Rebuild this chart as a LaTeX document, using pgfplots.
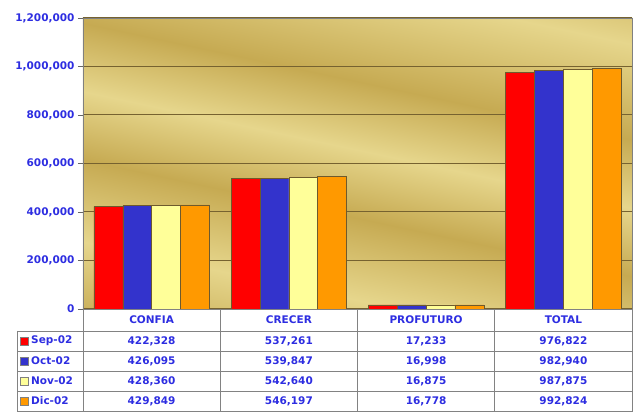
\documentclass[border=0pt]{standalone}
\usepackage{fontspec}
\setmainfont{DejaVu Sans}
\usepackage{pgfplots}
\pgfplotsset{compat=1.18}
\definecolor{txtblue}{RGB}{45,45,225}
\definecolor{sred}{RGB}{255,0,0}
\definecolor{sblue}{RGB}{51,51,204}
\definecolor{syel}{RGB}{255,255,153}
\definecolor{sorg}{RGB}{255,153,0}
\definecolor{gridc}{RGB}{118,98,48}
\definecolor{barline}{RGB}{110,90,45}
\definecolor{goldA}{RGB}{230,214,140}
\definecolor{goldB}{RGB}{198,170,82}
\definecolor{tabline}{RGB}{130,130,130}
\pgfdeclarehorizontalshading{goldtex}{100bp}{color(0bp)=(goldA); color(18bp)=(goldB); color(30bp)=(goldA); color(42bp)=(goldB); color(52bp)=(goldA); color(62bp)=(goldB); color(76bp)=(goldA); color(88bp)=(goldB); color(100bp)=(goldA)}
\newcommand{\tf}{\bfseries\fontsize{10.5}{12}\selectfont\color{txtblue}}
\begin{document}
\begin{tikzpicture}[x=1pt,y=1pt]
\useasboundingbox (0,0) rectangle (633,412);
\begin{axis}[
 at={(83pt,103pt)}, anchor=south west,
 scale only axis, width=549pt, height=291pt,
 xmin=-0.5, xmax=3.5, ymin=0, ymax=1200000,
 ytick={0,200000,400000,600000,800000,1000000,1200000},
 xtick=\empty,
 ybar=0pt, bar width=0.21,
 axis background/.style={shading=goldtex, shading angle=78},
 ymajorgrids, grid style={gridc, line width=1pt},
 axis line style={gray, line width=0.8pt},
 tick align=outside, major tick length=5pt, ytick pos=left,
 tick style={black!60, line width=0.8pt},
 scaled y ticks=false,
 yticklabel style={font=\tf},
 /pgf/number format/.cd, fixed, 1000 sep={,}, assume math mode=true,
]
\addplot[fill=sred, draw=barline, line width=0.5pt] coordinates {(0,422328) (1,537261) (2,17233) (3,976822)};
\addplot[fill=sblue, draw=barline, line width=0.5pt] coordinates {(0,426095) (1,539847) (2,16998) (3,982940)};
\addplot[fill=syel, draw=barline, line width=0.5pt] coordinates {(0,428360) (1,542640) (2,16875) (3,987875)};
\addplot[fill=sorg, draw=barline, line width=0.5pt] coordinates {(0,429849) (1,546197) (2,16778) (3,992824)};
\end{axis}
% table grid
\begin{scope}[tabline, line width=0.8pt]
\draw (83,103) -- (633,103);
\foreach \yy in {81,61,41,21,0.5} \draw (17,\yy) -- (633,\yy);
\draw (17,81) -- (17,0);
\foreach \xx in {83,220.25,357.5,494.75,632} \draw (\xx,103) -- (\xx,0);
\end{scope}
% header
\foreach \cx/\nm in {151.6/CONFIA,288.9/CRECER,426.1/PROFUTURO,563.4/TOTAL}
  \node[font=\tf] at (\cx,92) {\nm};
% rows
\foreach \yy/\nm/\cc/\a/\b/\c/\d in {
 71/Sep-02/sred/{422,328}/{537,261}/{17,233}/{976,822},
 51/Oct-02/sblue/{426,095}/{539,847}/{16,998}/{982,940},
 31/Nov-02/syel/{428,360}/{542,640}/{16,875}/{987,875},
 11/Dic-02/sorg/{429,849}/{546,197}/{16,778}/{992,824}}{
  \node[font=\tf] at (151.6,\yy) {\a};
  \node[font=\tf] at (288.9,\yy) {\b};
  \node[font=\tf] at (426.1,\yy) {\c};
  \node[font=\tf] at (563.4,\yy) {\d};
  \filldraw[fill=\cc, draw=black!50, line width=0.4pt] (20,\yy-4) rectangle (28,\yy+4);
  \node[font=\tf, anchor=west, inner sep=0pt] at (31,\yy) {\nm};
}
\end{tikzpicture}
\end{document}
